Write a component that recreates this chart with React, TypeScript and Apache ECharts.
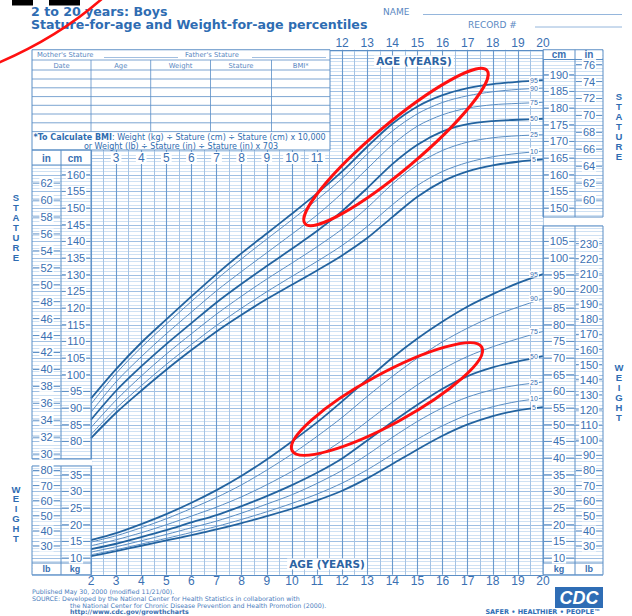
import React, { useEffect, useRef } from 'react';
import * as echarts from 'echarts';

// ---------- data ----------
const AGES = [2, 3, 4, 5, 6, 7, 8, 9, 10, 11, 12, 13, 14, 15, 16, 17, 18, 19, 20];
const PERCENTILES = ['5', '10', '25', '50', '75', '90', '95'];

const STATURE_P5 = [81.0, 88.6, 95.2, 101.5, 107.4, 113.0, 118.0, 122.7, 127.0, 131.3, 135.8, 141.0, 147.3, 153.4, 158.0, 161.0, 162.8, 163.9, 164.6];
const STATURE_P10 = [82.1, 89.9, 96.7, 103.1, 109.1, 114.8, 120.0, 124.9, 129.5, 134.0, 138.8, 144.5, 151.0, 156.8, 161.0, 163.7, 165.4, 166.4, 167.1];
const STATURE_P25 = [84.2, 92.4, 99.6, 106.2, 112.3, 118.2, 123.6, 128.7, 133.5, 138.4, 143.7, 150.1, 157.2, 163.2, 167.3, 169.8, 171.1, 171.7, 172.0];
const STATURE_P50 = [86.5, 95.2, 102.5, 109.2, 115.5, 121.7, 127.3, 132.6, 137.8, 143.1, 149.1, 156.0, 163.2, 169.0, 173.0, 175.2, 176.1, 176.5, 176.8];
const STATURE_P75 = [88.8, 97.9, 105.4, 112.3, 118.8, 125.2, 131.0, 136.6, 142.2, 147.9, 154.5, 161.8, 169.0, 174.6, 178.0, 180.0, 181.0, 181.4, 181.7];
const STATURE_P90 = [91.2, 100.4, 108.2, 115.2, 122.0, 128.6, 134.8, 140.7, 146.5, 152.5, 158.9, 166.2, 173.1, 178.3, 181.7, 183.7, 184.9, 185.6, 186.0];
const STATURE_P95 = [92.9, 101.7, 109.6, 116.6, 123.5, 130.2, 136.5, 142.4, 148.3, 154.4, 161.0, 168.4, 175.3, 180.5, 183.9, 186.0, 187.2, 187.9, 188.4];

const WEIGHT_P5 = [10.6, 12.1, 13.7, 15.3, 16.9, 18.6, 20.5, 22.6, 24.8, 27.3, 30.2, 33.9, 38.2, 42.6, 46.7, 50.1, 52.6, 54.3, 55.3];
const WEIGHT_P10 = [11.0, 12.5, 14.2, 15.9, 17.7, 19.5, 21.6, 23.9, 26.4, 29.2, 32.5, 36.5, 41.1, 45.7, 49.7, 53.0, 55.4, 57.0, 58.0];
const WEIGHT_P25 = [11.8, 13.4, 15.2, 17.1, 19.1, 21.1, 23.5, 26.2, 29.0, 32.4, 36.3, 41.0, 46.2, 51.0, 55.1, 58.3, 60.5, 61.9, 62.8];
const WEIGHT_P50 = [12.7, 14.3, 16.3, 18.4, 20.7, 22.9, 25.6, 28.6, 31.9, 35.6, 39.9, 45.3, 50.8, 56.0, 60.8, 64.6, 67.2, 69.0, 70.6];
const WEIGHT_P75 = [13.7, 15.5, 17.6, 20.0, 22.6, 25.3, 28.4, 32.0, 36.0, 40.4, 45.3, 51.0, 56.7, 62.0, 66.7, 70.5, 73.4, 75.8, 78.0];
const WEIGHT_P90 = [14.8, 16.7, 19.1, 21.8, 24.9, 28.2, 32.0, 36.4, 41.2, 46.5, 52.2, 58.5, 64.5, 70.0, 74.9, 79.0, 82.5, 85.3, 87.8];
const WEIGHT_P95 = [15.4, 17.5, 20.2, 23.2, 26.6, 30.4, 34.7, 39.6, 45.0, 50.7, 57.0, 63.6, 70.1, 75.9, 81.0, 85.5, 89.2, 92.5, 95.2];

const BOTTOM_AGE_LABELS = [2, 3, 4, 5, 6, 7, 8, 9, 10, 11, 12, 13, 14, 15, 16, 17, 18, 19, 20];
const TOP_AGE_LABELS = [12, 13, 14, 15, 16, 17, 18, 19, 20];
const INNER_AGE_LABELS = [3, 4, 5, 6, 7, 8, 9, 10, 11];

const LEFT_IN_TICKS = [30, 32, 34, 36, 38, 40, 42, 44, 46, 48, 50, 52, 54, 56, 58, 60, 62];
const LEFT_CM_TICKS = [80, 85, 90, 95, 100, 105, 110, 115, 120, 125, 130, 135, 140, 145, 150, 155, 160];
const LEFT_LB_TICKS = [30, 40, 50, 60, 70, 80];
const LEFT_KG_TICKS = [10, 15, 20, 25, 30, 35];
const RIGHT_CM_TICKS = [150, 155, 160, 165, 170, 175, 180, 185, 190];
const RIGHT_IN_TICKS = [60, 62, 64, 66, 68, 70, 72, 74, 76];
const RIGHT_KG_TICKS = [10, 15, 20, 25, 30, 35, 40, 45, 50, 55, 60, 65, 70, 75, 80, 85, 90, 95, 100, 105];
const RIGHT_LB_TICKS = [30, 40, 50, 60, 70, 80, 90, 100, 110, 120, 130, 140, 150, 160, 170, 180, 190, 200, 210, 220, 230];

// stature (cm) shares the kg axis, shifted by 35 units
const STATURE_SHIFT = 35;
const CM_PER_IN = 2.54;
const KG_PER_LB = 0.45359;

// ---------- style ----------
const FONT = '"Liberation Sans", Arial, Helvetica, sans-serif';
const WIDE = '"DejaVu Sans", Verdana, sans-serif';
const TXT = '#3a70b2';
const TITLE = '#2e6cb2';
const CURVE_DARK = '#23639f';
const CURVE_LIGHT = '#5a8dc2';
const GRID_YEAR = '#6a9acd';
const GRID_HALF = '#a4c3e4';
const GRID_5 = '#a0c0e3';
const GRID_1 = '#cfe1f3';
const BORDER = '#5b8ec5';
const RED = '#ff1010';

export default function App() {
  const ref = useRef<HTMLDivElement>(null);

  useEffect(() => {
    const el = ref.current!;
    const chart = echarts.init(el, null, { renderer: 'svg', width: 632, height: 616 });

    const stature = [STATURE_P5, STATURE_P10, STATURE_P25, STATURE_P50, STATURE_P75, STATURE_P90, STATURE_P95];
    const weight = [WEIGHT_P5, WEIGHT_P10, WEIGHT_P25, WEIGHT_P50, WEIGHT_P75, WEIGHT_P90, WEIGHT_P95];

    const series: any[] = [];
    const addCurves = (sets: number[][], shift: number) => {
      sets.forEach((vals, i) => {
        const p = PERCENTILES[i];
        const thick = p === '5' || p === '50' || p === '95';
        series.push({
          type: 'line',
          xAxisIndex: 0,
          yAxisIndex: 0,
          data: AGES.map((a, k) => [a, vals[k] - shift]),
          smooth: 0.3,
          symbol: 'none',
          showSymbol: false,
          silent: true,
          z: 3,
          lineStyle: { color: thick ? CURVE_DARK : CURVE_LIGHT, width: thick ? 1.8 : 1 },
          endLabel: {
            show: true,
            formatter: p,
            color: TXT,
            fontSize: 7,
            fontFamily: FONT,
            backgroundColor: '#ffffff',
            padding: [0, 1],
            align: 'center',
            verticalAlign: 'middle',
            offset: [-17, 0],
          },
        });
      });
    };
    addCurves(stature, STATURE_SHIFT);
    addCurves(weight, 0);

    const yBase = {
      type: 'value',
      min: 5,
      max: 162.5,
      interval: 5,
      axisLabel: { show: false },
      axisLine: { show: false },
      axisTick: { show: false },
      splitLine: { show: true, lineStyle: { color: GRID_5, width: 1 } },
      minorTick: { show: false, splitNumber: 5 },
      minorSplitLine: { show: true, lineStyle: { color: GRID_1, width: 1 } },
    };
    const hiddenX = { type: 'value', min: 0, max: 1, show: false };
    const gridV = { top: 49.75, bottom: 41.25 };

    chart.setOption({
      animation: false,
      backgroundColor: '#ffffff',
      textStyle: { fontFamily: FONT },
      grid: [
        { left: 91, right: 89, ...gridV },
        { left: 32, width: 59, ...gridV },
        { left: 543, width: 60, ...gridV },
      ],
      xAxis: [
        {
          type: 'value', gridIndex: 0, position: 'bottom', min: 2, max: 20, interval: 1,
          axisLine: { show: true, lineStyle: { color: BORDER } },
          axisTick: { show: false },
          axisLabel: {
            color: TXT, fontSize: 12, margin: 0, fontFamily: FONT,
            formatter: (v: number) => (BOTTOM_AGE_LABELS.includes(v) ? String(v) : ''),
          },
          splitLine: { show: true, lineStyle: { color: GRID_YEAR, width: 1.1 } },
          minorTick: { show: false, splitNumber: 2 },
          minorSplitLine: { show: true, lineStyle: { color: GRID_HALF, width: 1 } },
        },
        {
          type: 'value', gridIndex: 0, position: 'top', min: 2, max: 20, interval: 1,
          axisLine: { show: true, lineStyle: { color: BORDER } },
          axisTick: { show: false },
          axisLabel: {
            color: TXT, fontSize: 12, margin: 1, fontFamily: FONT,
            formatter: (v: number) => (TOP_AGE_LABELS.includes(v) ? String(v) : ''),
          },
          splitLine: { show: false },
        },
        { ...hiddenX, gridIndex: 1 },
        { ...hiddenX, gridIndex: 2 },
      ],
      yAxis: [
        { ...yBase, gridIndex: 0 },
        { ...yBase, gridIndex: 1 },
        { ...yBase, gridIndex: 2 },
      ],
      series,
    });

    const yA = (v: number) => chart.convertToPixel({ yAxisIndex: 0 }, v) as number;
    const xA = (v: number) => chart.convertToPixel({ xAxisIndex: 0 }, v) as number;
    const gTop = yA(162.5);
    const gBot = yA(5);

    const g: any[] = [];
    const rect = (x: number, y: number, w: number, h: number, fill: string, z = 5) =>
      g.push({ type: 'rect', z, silent: true, shape: { x, y, width: w, height: h }, style: { fill } });
    const box = (x: number, y: number, w: number, h: number, z = 7, lw = 1) =>
      g.push({ type: 'rect', z, silent: true, shape: { x, y, width: w, height: h }, style: { fill: 'none', stroke: BORDER, lineWidth: lw } });
    const line = (x1: number, y1: number, x2: number, y2: number, stroke = BORDER, lw = 1, z = 7) =>
      g.push({ type: 'line', z, silent: true, shape: { x1, y1, x2, y2 }, style: { stroke, lineWidth: lw } });
    const text = (x: number, y: number, t: string, o: any = {}) =>
      g.push({
        type: 'text', z: o.z ?? 9, silent: true, x, y,
        style: {
          text: t,
          fill: o.fill ?? TXT,
          fontSize: o.size ?? 8,
          fontWeight: o.weight ?? 'normal',
          fontStyle: o.style ?? 'normal',
          fontFamily: o.family ?? FONT,
          align: o.align ?? 'center',
          verticalAlign: 'middle',
          ...(o.bg ? { backgroundColor: o.bg, padding: o.pad ?? [0, 1] } : {}),
          ...(o.rich ? { rich: o.rich } : {}),
        },
      });

    // ----- title / header -----
    rect(12, 0, 21, 5.5, '#000000', 20);
    rect(49, 0, 31, 5.5, '#000000', 20);
    text(31, 11, '2 to 20 years: Boys', { align: 'left', size: 12.6, weight: 'bold', fill: TITLE, family: WIDE });
    text(31, 24.5, 'Stature-for-age and Weight-for-age percentiles', { align: 'left', size: 12.6, weight: 'bold', fill: TITLE, family: WIDE });
    text(383, 12, 'NAME', { align: 'left', size: 9, fill: '#5a88c2', family: WIDE });
    line(423, 14.5, 622, 14.5, '#7aa3d3', 0.8);
    text(468, 25, 'RECORD #', { align: 'left', size: 9, fill: '#5a88c2', family: WIDE });
    line(535, 27, 622, 27, '#7aa3d3', 0.8);

    // ----- top-left table -----
    rect(32, gTop - 1, 298, 150 - gTop + 1, '#ffffff', 5);
    box(32, gTop, 298, 150 - gTop);
    text(37, 55, "Mother's Stature", { align: 'left', size: 6.8, fill: '#5a88c2', family: WIDE });
    line(104, 57.5, 178, 57.5, '#7aa3d3', 0.7);
    text(185, 55, "Father's Stature", { align: 'left', size: 6.8, fill: '#5a88c2', family: WIDE });
    line(252, 57.5, 326, 57.5, '#7aa3d3', 0.7);
    [60, 70, 79, 87.8, 96.6, 105.3, 114, 122.8, 131.6].forEach((yy) => line(32, yy, 330, yy, BORDER, 0.8));
    [91, 150.7, 210.5, 271.5].forEach((xx) => line(xx, 60, xx, 131.6, BORDER, 0.8));
    [['Date', 61.5], ['Age', 120.8], ['Weight', 180.6], ['Stature', 241], ['BMI*', 300.7]].forEach(([t, xx]) =>
      text(xx as number, 65.5, t as string, { size: 6.8, fill: '#5a88c2', family: WIDE })
    );
    text(33.5, 137.8, '{b|*To Calculate BMI}: Weight (kg) ÷ Stature (cm) ÷ Stature (cm) x 10,000', {
      align: 'left', size: 8, fill: '#2f6cb0', family: WIDE,
      rich: { b: { fontWeight: 'bold', fontSize: 8, color: '#2f6cb0', fontFamily: WIDE } },
    });
    text(181, 146.3, 'or Weight (lb) ÷ Stature (in) ÷ Stature (in) x 703', { size: 8, fill: '#2f6cb0', family: WIDE });

    // ----- inner age labels (3..11) -----
    INNER_AGE_LABELS.forEach((a) => text(xA(a), 158, String(a), { size: 12, bg: '#ffffff', pad: [0, 2] }));

    // ----- AGE (YEARS) -----
    text(414, 61, 'AGE (YEARS)', { size: 10.5, weight: 'bold', fill: '#2c64a3', bg: '#ffffff', pad: [0, 2], family: WIDE });
    text(327, 564, 'AGE (YEARS)', { size: 10.5, weight: 'bold', fill: '#2c64a3', bg: '#ffffff', pad: [0, 2], family: WIDE });

    // ----- panels -----
    const tickCol = (vals: number[], toAxis: (v: number) => number, xl: number, xr: number) => {
      vals.forEach((v) => {
        const yy = yA(toAxis(v));
        line(xl + 1, yy, xr - 1, yy, BORDER, 1, 8);
        text((xl + xr) / 2, yy, String(v), { size: 11, bg: '#ffffff', pad: [0, 1] });
      });
    };
    const cmAxis = (c: number) => c - STATURE_SHIFT;
    const inAxis = (i: number) => i * CM_PER_IN - STATURE_SHIFT;
    const kgAxis = (k: number) => k;
    const lbAxis = (l: number) => l * KG_PER_LB;

    // left stature panel
    rect(32, 150, 59, 15, '#ffffff', 6);
    box(32, 150, 59, 309);
    line(61, 150, 61, 459);
    line(32, 165, 91, 165);
    text(46.5, 158.5, 'in', { size: 10, weight: 'bold' });
    text(75, 158.5, 'cm', { size: 10, weight: 'bold' });
    tickCol(LEFT_IN_TICKS, inAxis, 32, 61);
    tickCol(LEFT_CM_TICKS, cmAxis, 61, 91);
    rect(31, 459.5, 61, 6, '#ffffff', 6);
    // left weight panel
    box(32, 466, 59, gBot - 466);
    line(61, 466, 61, gBot);
    rect(32.5, 563, 58, gBot - 563, '#ffffff', 6);
    line(32, 563, 91, 563);
    text(46.5, 568.5, 'lb', { size: 9, weight: 'bold' });
    text(75, 568.5, 'kg', { size: 9, weight: 'bold' });
    tickCol(LEFT_LB_TICKS, lbAxis, 32, 61);
    tickCol(LEFT_KG_TICKS, kgAxis, 61, 91);

    // right stature panel
    rect(543.5, gTop, 59, 9.5, '#ffffff', 6);
    box(543, gTop, 60, 217 - gTop);
    line(575, gTop, 575, 217);
    line(543, 59.5, 603, 59.5);
    text(559, 54.5, 'cm', { size: 10, weight: 'bold' });
    text(589, 54.5, 'in', { size: 10, weight: 'bold' });
    tickCol(RIGHT_CM_TICKS, cmAxis, 543, 575);
    tickCol(RIGHT_IN_TICKS, inAxis, 575, 603);
    rect(543.5, 217.5, 60, 8, '#ffffff', 6);
    // right weight panel
    box(543, 226, 60, gBot - 226);
    line(575, 226, 575, gBot);
    rect(543.5, 563, 59, gBot - 563, '#ffffff', 6);
    line(543, 563, 603, 563);
    text(559, 568.5, 'kg', { size: 9, weight: 'bold' });
    text(589, 568.5, 'lb', { size: 9, weight: 'bold' });
    tickCol(RIGHT_KG_TICKS, kgAxis, 543, 575);
    tickCol(RIGHT_LB_TICKS, lbAxis, 575, 603);

    // vertical words
    'STATURE'.split('').forEach((ch, i) => {
      text(16, 197 + i * 10, ch, { size: 9.5, weight: 'bold', fill: TITLE });
      text(619, 96 + i * 10, ch, { size: 9.5, weight: 'bold', fill: TITLE });
    });
    'WEIGHT'.split('').forEach((ch, i) => {
      text(16, 489 + i * 9.8, ch, { size: 9.5, weight: 'bold', fill: TITLE });
      text(619, 367 + i * 10, ch, { size: 9.5, weight: 'bold', fill: TITLE });
    });

    // footer
    const foot = { align: 'left', size: 6.3, fill: '#4a7cbc', family: WIDE };
    text(32, 591.2, 'Published May 30, 2000 (modified 11/21/00).', foot);
    text(32, 598.1, 'SOURCE: Developed by the National Center for Health Statistics in collaboration with', foot);
    text(70, 605, 'the National Center for Chronic Disease Prevention and Health Promotion (2000).', foot);
    text(70, 611.9, 'http://www.cdc.gov/growthcharts', { ...foot, weight: 'bold', fill: '#3a6fb0' });

    // CDC logo
    rect(555, 587, 48, 21, '#2f6db5', 9);
    text(579, 597.5, 'CDC', { size: 18, weight: 'bold', style: 'italic', fill: '#ffffff', z: 10 });
    text(543, 612, 'SAFER • HEALTHIER • PEOPLE™', { size: 6.5, weight: 'bold', fill: '#2f6db5', family: WIDE });

    // red annotations
    g.push({
      type: 'bezierCurve', z: 30, silent: true,
      shape: { x1: -2, y1: 63, x2: 104, y2: -3, cpx1: 40, cpy1: 45, cpx2: 76, cpy2: 22 },
      style: { stroke: RED, lineWidth: 2.6, fill: 'none' },
    });
    g.push({
      type: 'ellipse', z: 30, silent: true, x: 396, y: 147, rotation: 0.7,
      shape: { cx: 0, cy: 0, rx: 119, ry: 23 },
      style: { stroke: RED, lineWidth: 3, fill: 'none' },
    });
    g.push({
      type: 'ellipse', z: 30, silent: true, x: 387, y: 399, rotation: 0.5,
      shape: { cx: 0, cy: 0, rx: 108, ry: 25 },
      style: { stroke: RED, lineWidth: 3, fill: 'none' },
    });

    chart.setOption({ graphic: g });

    return () => chart.dispose();
  }, []);

  return <div ref={ref} style={{ position: 'absolute', left: 0, top: 0, width: 632, height: 616 }} />;
}
